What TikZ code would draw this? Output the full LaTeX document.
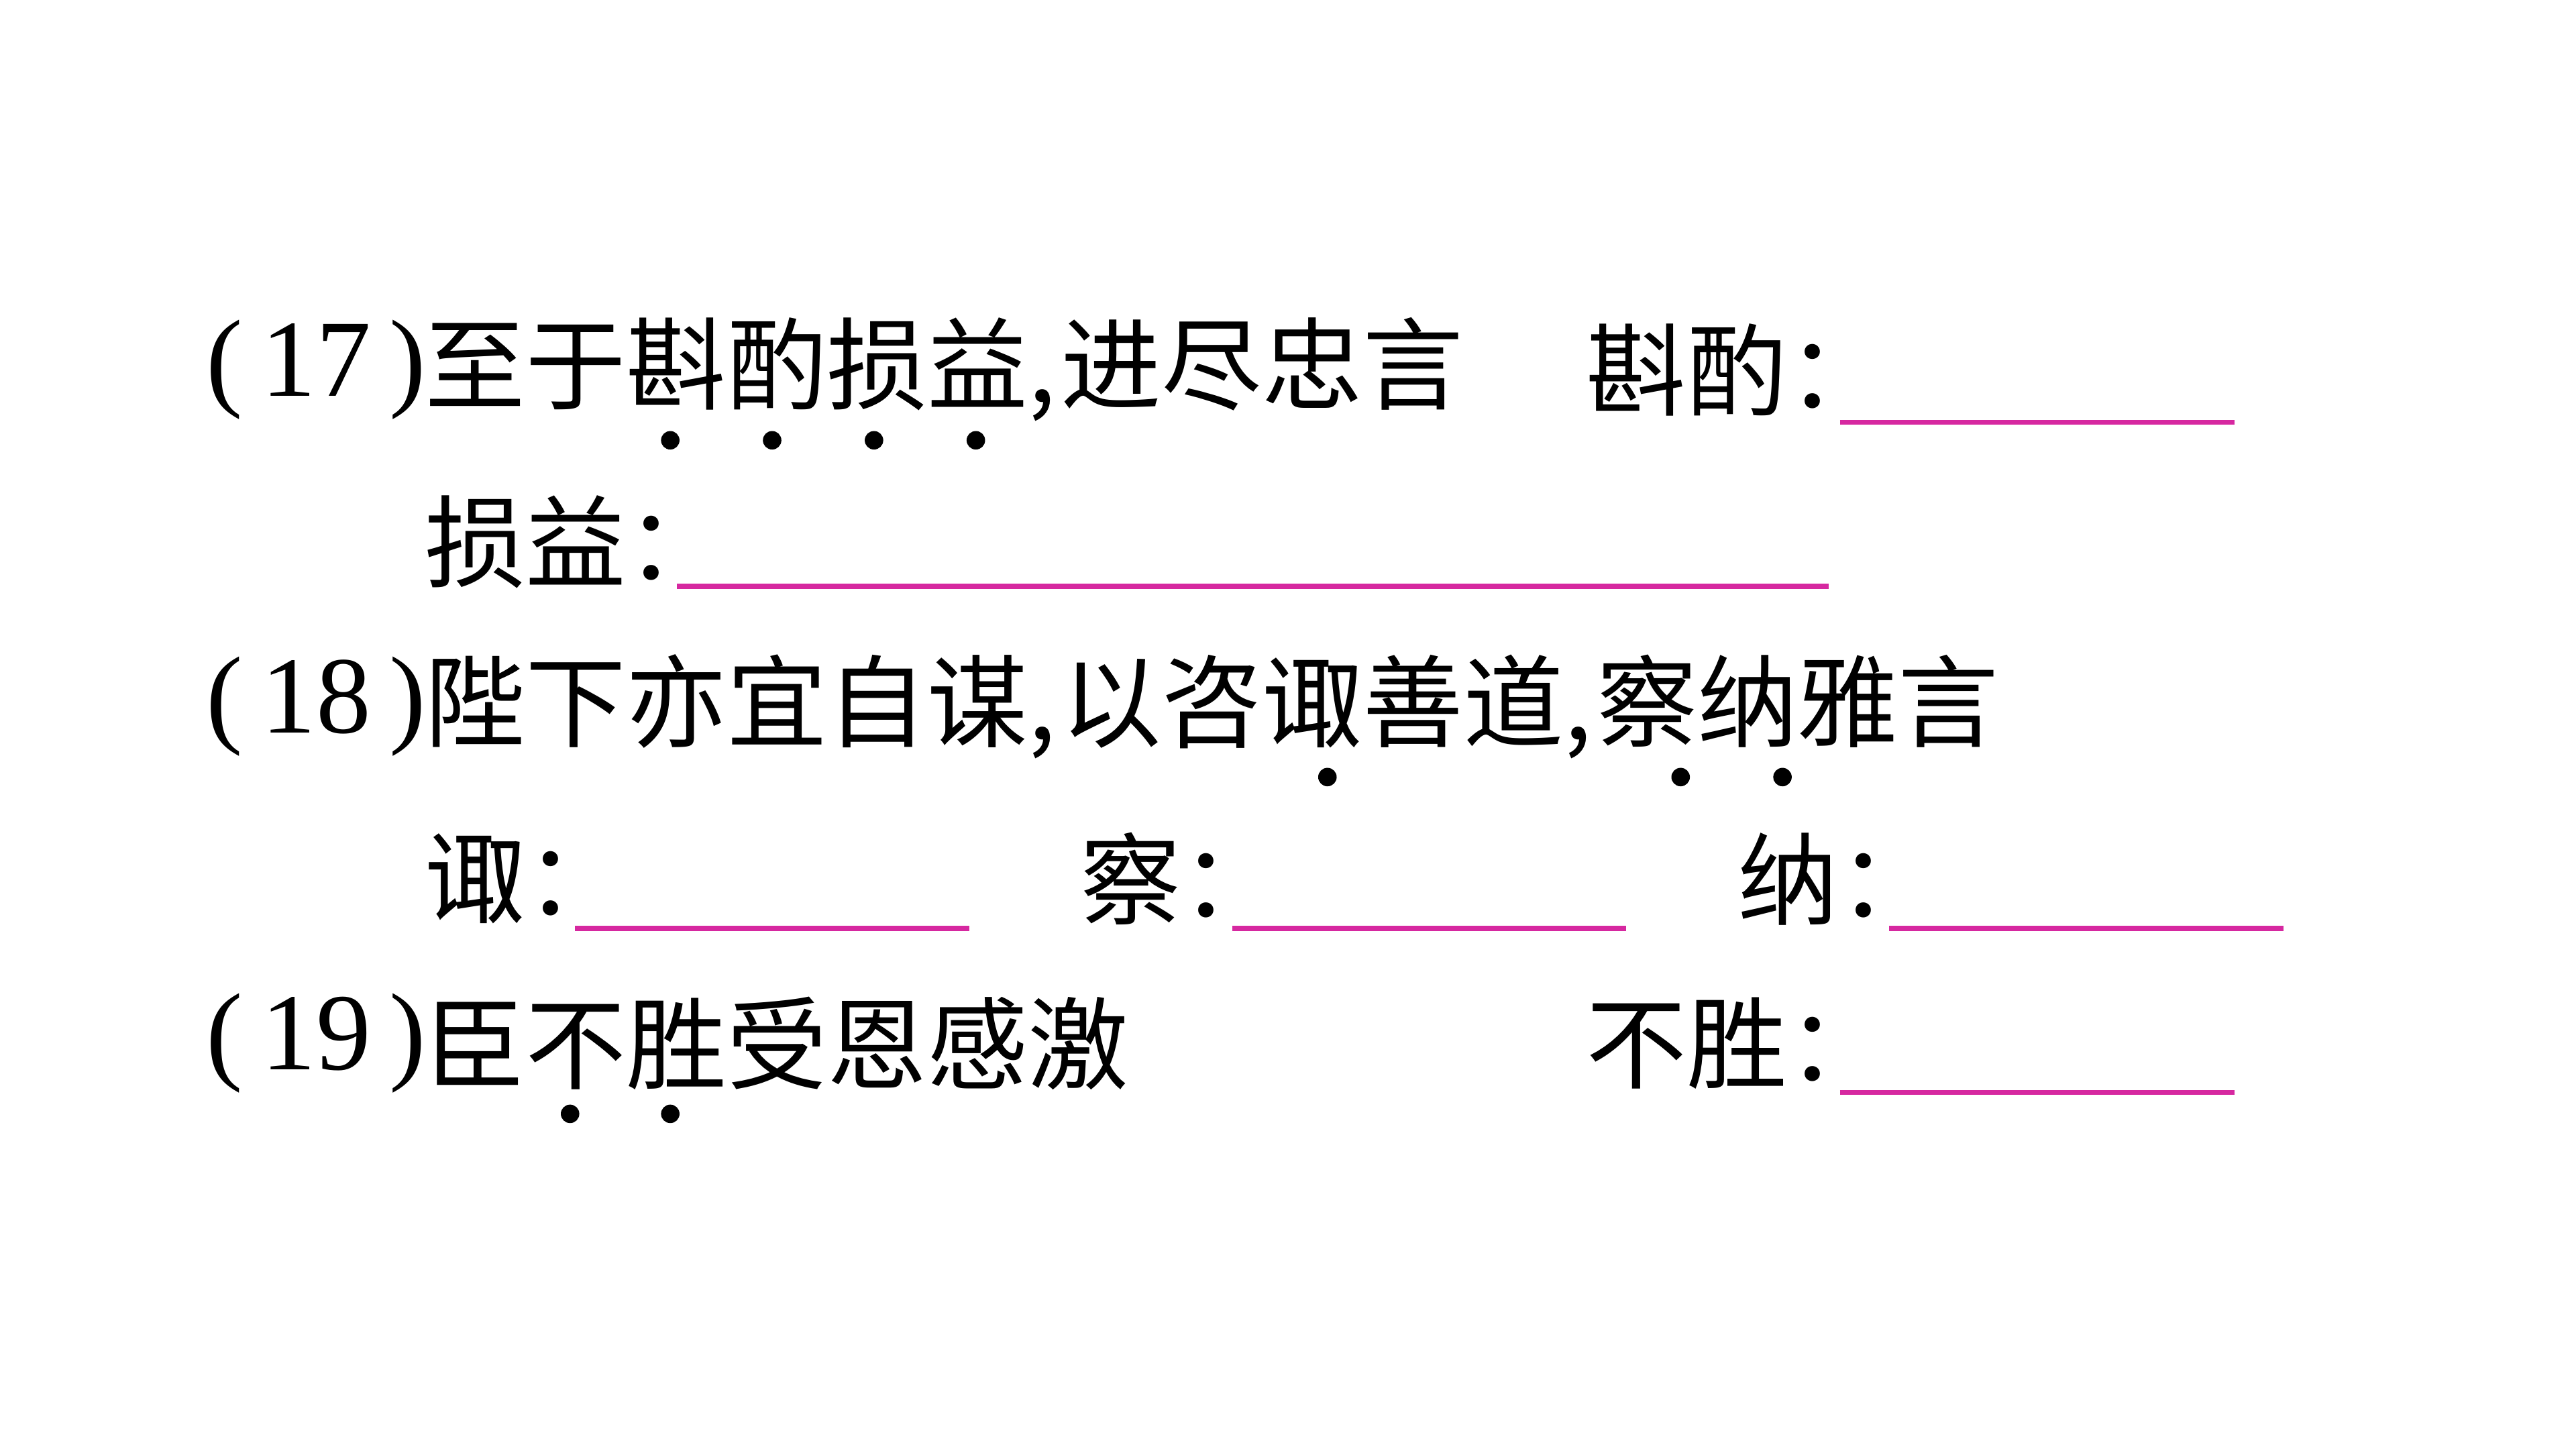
\documentclass[tikz,border=0pt]{standalone}
\usepackage{fontspec}
\setmainfont{Liberation Serif}
\newfontfamily\cjk{Noto Sans CJK SC}
\definecolor{answerline}{RGB}{214,40,160}
\newcommand{\cmm}{,\hspace{0.05em}}
\tikzset{
  txt/.style={anchor=west, inner sep=0pt, font=\cjk\fontsize{17.4}{20}\selectfont},
  num/.style={anchor=west, inner sep=0pt, font=\fontsize{19}{22}\selectfont},
  blank/.style={answerline, line width=0.9pt},
  dotmark/.style={circle, fill=black, inner sep=0pt, minimum size=3.2pt}
}
\begin{document}
\begin{tikzpicture}[x=0.01cm, y=-0.01cm]
\useasboundingbox (0,0) rectangle (1568,882);

% (17)
\node (n17) [num] at (125,225) {(\,17\,)};
\node (s17) [txt] at (258,225) {至于斟酌损益\cmm 进尽忠言};
\node (q17a) [txt] at (965,225) {斟酌：};
\node (q17b) [txt] at (258,330) {损益：};
\foreach \x in {408,470,532,594}
  \node [dotmark] at (\x,268) {};
\coordinate (a1) at (1120,257); \coordinate (a2) at (1360,257);
\coordinate (b1) at (412,357);  \coordinate (b2) at (1113,357);
\draw [blank] (a1) -- (a2);
\draw [blank] (b1) -- (b2);

% (18)
\node (n18) [num] at (125,430) {(\,18\,)};
\node (s18) [txt] at (258,430) {陛下亦宜自谋\cmm 以咨诹善道\cmm 察纳雅言};
\foreach \x in {808,1023,1085}
  \node [dotmark] at (\x,473) {};
\node (q18a) [txt] at (258,535) {诹：};
\node (q18b) [txt] at (657,535) {察：};
\node (q18c) [txt] at (1057,535) {纳：};
\coordinate (c1) at (350,565);  \coordinate (c2) at (590,565);
\coordinate (d1) at (750,565);  \coordinate (d2) at (990,565);
\coordinate (e1) at (1150,565); \coordinate (e2) at (1390,565);
\draw [blank] (c1) -- (c2);
\draw [blank] (d1) -- (d2);
\draw [blank] (e1) -- (e2);

% (19)
\node (n19) [num] at (125,635) {(\,19\,)};
\node (s19) [txt] at (258,635) {臣不胜受恩感激};
\foreach \x in {347,408}
  \node [dotmark] at (\x,678) {};
\node (q19) [txt] at (965,635) {不胜：};
\coordinate (f1) at (1120,665); \coordinate (f2) at (1360,665);
\draw [blank] (f1) -- (f2);

\end{tikzpicture}
\end{document}
